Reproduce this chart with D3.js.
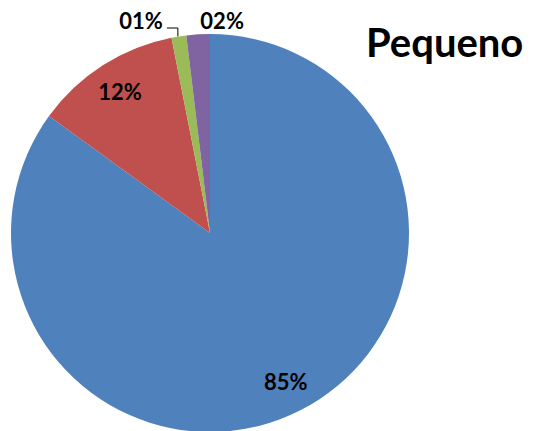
<!DOCTYPE html>
<html>
<head>
<meta charset="utf-8">
<script src="https://cdn.jsdelivr.net/npm/d3@7"></script>
<style>
  body { margin: 0; background: #fff; }
</style>
</head>
<body>
<div id="wrapper"></div>
<script>
// chart data
const categories = ['A', 'B', 'C', 'D']
const values = [85.0, 11.9, 1.2, 1.9]
const labels = ['85%', '12%', '01%', '02%']
const colors = ['#4F81BD', '#C0504D', '#9BBB59', '#8064A2']
const title = 'Pequeno'

let dimensions = {
    width: 541,
    height: 431,
    cx: 210,
    cy: 233,
    radius: 199
}

let svg = d3.select("#wrapper")
    .append("svg")
    .attr("width", dimensions.width)
    .attr("height", dimensions.height)

const bounds = svg.append("g")
    .attr("transform", `translate(${dimensions.cx},${dimensions.cy})`)

let pie = d3.pie()
    .sort(null)
    .value(d => d.value)

let arcs = pie(categories.map((c, i) => ({ name: c, value: values[i], label: labels[i], color: colors[i] })))

let arc = d3.arc()
    .innerRadius(0)
    .outerRadius(dimensions.radius)

bounds.selectAll("path")
    .data(arcs)
    .enter()
    .append("path")
    .attr("d", arc)
    .attr("fill", d => d.data.color)

// label placement: inside labels at ~84% radius, small slices outside
let inner = d3.arc().innerRadius(dimensions.radius * 0.84).outerRadius(dimensions.radius * 0.84)
let edge = d3.arc().innerRadius(dimensions.radius).outerRadius(dimensions.radius)

const labelFont = "Lato, 'DejaVu Sans', sans-serif"
const labelSize = "22px"

arcs.forEach((d, i) => {
    if (d.data.value > 5) {
        let [x, y] = inner.centroid(d)
        bounds.append("text")
            .attr("x", x)
            .attr("y", y)
            .attr("dy", "0.36em")
            .attr("text-anchor", "middle")
            .attr("font-family", labelFont)
            .attr("font-weight", "bold")
            .attr("font-size", labelSize)
            .attr("fill", "#000")
            .text(d.data.label)
    }
})

// outside labels for small slices
let green = arcs[2]
let [gx, gy] = edge.centroid(green)
let lineY = -dimensions.radius - 6
bounds.append("path")
    .attr("d", `M${gx - 1},${gy} L${gx - 1},${lineY} L${gx - 12},${lineY}`)
    .attr("fill", "none")
    .attr("stroke", "#000")
    .attr("stroke-width", 1)
bounds.append("text")
    .attr("x", gx - 16)
    .attr("y", lineY + 1)
    .attr("text-anchor", "end")
    .attr("font-family", labelFont)
    .attr("font-weight", "bold")
    .attr("font-size", labelSize)
    .text(green.data.label)

let purple = arcs[3]
let [px, py] = edge.centroid(purple)
bounds.append("text")
    .attr("x", px + 24)
    .attr("y", lineY + 1)
    .attr("text-anchor", "middle")
    .attr("font-family", labelFont)
    .attr("font-weight", "bold")
    .attr("font-size", labelSize)
    .text(purple.data.label)

// title
svg.append("text")
    .attr("x", 366)
    .attr("y", 57)
    .attr("font-family", labelFont)
    .attr("font-weight", "bold")
    .attr("font-size", "40px")
    .attr("fill", "#000")
    .text(title)
</script>
</body>
</html>
